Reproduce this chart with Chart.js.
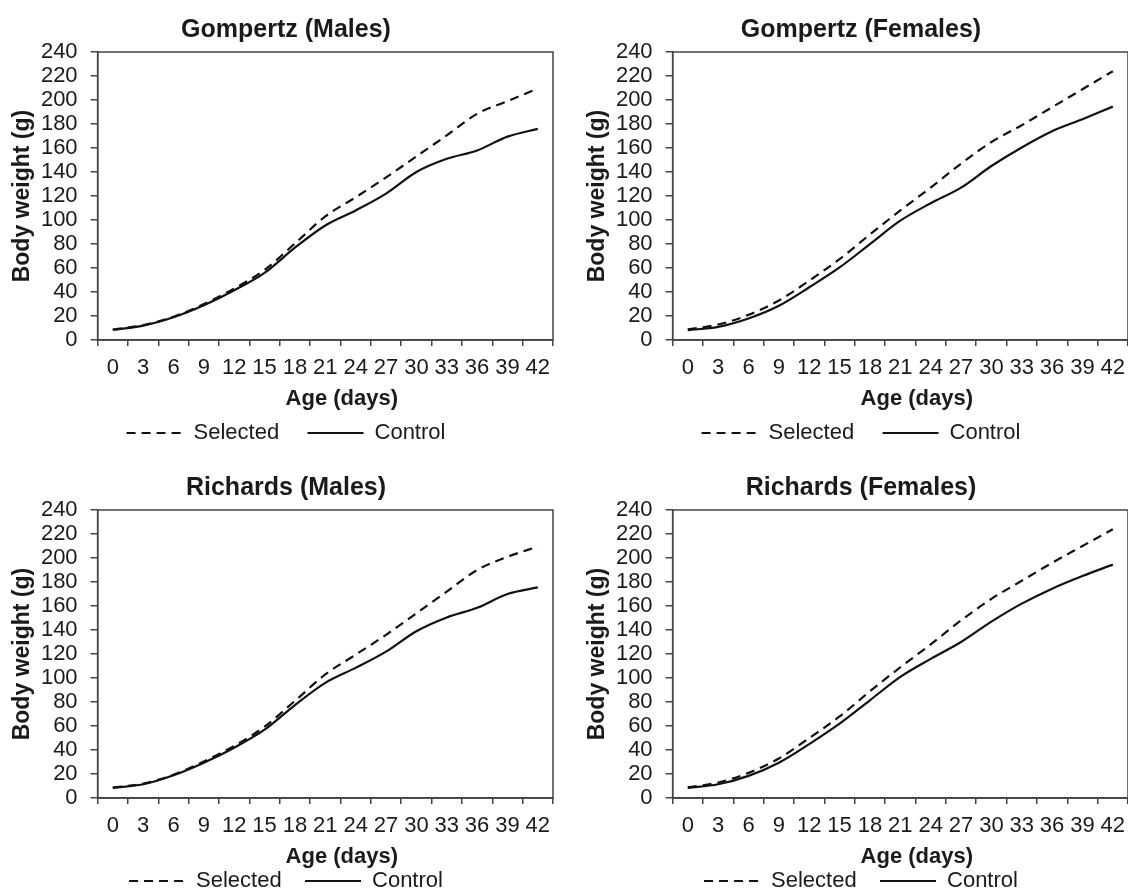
<!DOCTYPE html>
<html>
<head>
<meta charset="utf-8">
<script src="https://cdn.jsdelivr.net/npm/chart.js@4"></script>
<style>
  html, body { margin: 0; padding: 0; background: #fff; width: 1128px; height: 890px; overflow: hidden; }
  canvas { position: absolute; }
</style>
</head>
<body>
<canvas id="gm" width="570" height="458" style="left:0;top:0"></canvas>
<canvas id="gf" width="570" height="458" style="left:575px;top:0"></canvas>
<canvas id="rm" width="570" height="448" style="left:0;top:458px"></canvas>
<canvas id="rf" width="570" height="448" style="left:575px;top:458px"></canvas>
<script>
// age in days (every 3rd day)
var ages = ["0", "3", "6", "9", "12", "15", "18", "21", "24", "27", "30", "33", "36", "39", "42"];

// body weight (g)
var gompMalesSel = [8.8, 12.5, 19.5, 30, 43, 58.5, 80.5, 103, 119, 135.5, 153, 170.5, 188.5, 199, 209.5];
var gompMalesCtrl = [8.6, 12, 19, 29, 41.5, 56, 77, 95.5, 108, 122, 140, 151, 158, 169.5, 176];
var gompFemalesSel = [9, 13, 21, 33, 49.5, 67.5, 88, 108, 127, 147, 165, 179, 194, 209, 224];
var gompFemalesCtrl = [8.3, 11, 18, 28.6, 44, 60.5, 80, 99.5, 114, 127, 145, 160.5, 174, 184, 194.5];
var richMalesSel = [8.8, 12, 19.5, 30.5, 43.5, 59.5, 81, 103, 119.5, 136, 154, 172, 190, 201, 209.5];
var richMalesCtrl = [8.5, 11.5, 19, 29.5, 42, 57, 77.5, 96, 108.5, 122, 139, 150.5, 158.5, 170, 175.5];
var richFemalesSel = [9, 13, 21, 33, 50, 68, 89, 109, 128, 148, 166, 181, 196, 210, 224];
var richFemalesCtrl = [8.5, 11.5, 18.5, 29.5, 45, 62, 81.5, 101, 116, 130, 147, 162, 174.5, 185, 194.5];

var yTicks = [0, 240, 20]; // min, max, step

Chart.defaults.font.family = "'Liberation Sans', Arial, sans-serif";
Chart.defaults.color = "#1a1a1a";

// box round the plot area (top and right sides too)
var frame = {
  id: "frame",
  beforeDatasetsDraw: function (chart) {
    var a = chart.chartArea, ctx = chart.ctx;
    ctx.save();
    ctx.strokeStyle = "#444";
    ctx.lineWidth = 1.5;
    ctx.strokeRect(a.left, a.top, a.right - a.left, a.bottom - a.top);
    ctx.restore();
  }
};

function growthChart(id, title, sel, ctrl, compact) {
  return new Chart(document.getElementById(id), {
    type: "line",
    data: {
      labels: ages,
      datasets: [
        {
          label: "Selected",
          data: sel,
          borderColor: "#111",
          borderWidth: 2.2,
          borderDash: [9, 6],
          pointRadius: 0,
          cubicInterpolationMode: "monotone",
          fill: false
        },
        {
          label: "Control",
          data: ctrl,
          borderColor: "#111",
          borderWidth: 2.2,
          pointRadius: 0,
          cubicInterpolationMode: "monotone",
          fill: false
        }
      ]
    },
    options: {
      responsive: false,
      animation: false,
      layout: { padding: { left: 19, right: 17, top: 0, bottom: 4 } },
      plugins: {
        tooltip: { enabled: false },
        title: {
          display: true,
          text: title,
          font: { size: 25, weight: "bold" },
          padding: { top: 15, bottom: 7 }
        },
        legend: {
          position: "bottom",
          labels: {
            usePointStyle: true,
            pointStyle: "line",
            pointStyleWidth: 56,
            boxHeight: 22,
            padding: compact ? 5 : 10,
            font: { size: 22 },
            generateLabels: function (chart) {
              var items = Chart.defaults.plugins.legend.labels.generateLabels(chart);
              items.forEach(function (item, i) {
                item.lineDash = chart.data.datasets[i].borderDash || [];
                if (i === 0) {
                  item.text += "   ";
                }
              });
              return items;
            }
          }
        }
      },
      scales: {
        x: {
          type: "category",
          offset: true,
          border: { display: true, color: "#444", width: 1.5 },
          grid: { offset: true, drawOnChartArea: false, tickLength: 6, color: "#444", lineWidth: 1.5 },
          ticks: { autoSkip: false, maxRotation: 0, padding: 9, font: { size: 22 } },
          title: {
            display: true,
            text: "\u2002\u2002\u2002Age (days)",
            font: { size: 22, weight: "bold", lineHeight: 0.75 },
            padding: { top: 0, bottom: compact ? 0 : 5 }
          }
        },
        y: {
          min: yTicks[0],
          max: yTicks[1],
          border: { display: true, color: "#444", width: 1.5 },
          grid: { drawOnChartArea: false, tickLength: 7, color: "#444", lineWidth: 1.5 },
          ticks: { stepSize: yTicks[2], autoSkip: false, padding: 13, font: { size: 22 } },
          title: {
            display: true,
            text: "Body weight (g)",
            font: { size: 23, weight: "bold", lineHeight: 0.3 },
            padding: { top: 0, bottom: 2 }
          }
        }
      }
    },
    plugins: [frame]
  });
}

growthChart("gm", "Gompertz (Males)", gompMalesSel, gompMalesCtrl, false);
growthChart("gf", "Gompertz (Females)", gompFemalesSel, gompFemalesCtrl, false);
growthChart("rm", "Richards (Males)", richMalesSel, richMalesCtrl, true);
growthChart("rf", "Richards (Females)", richFemalesSel, richFemalesCtrl, true);
</script>
</body>
</html>
